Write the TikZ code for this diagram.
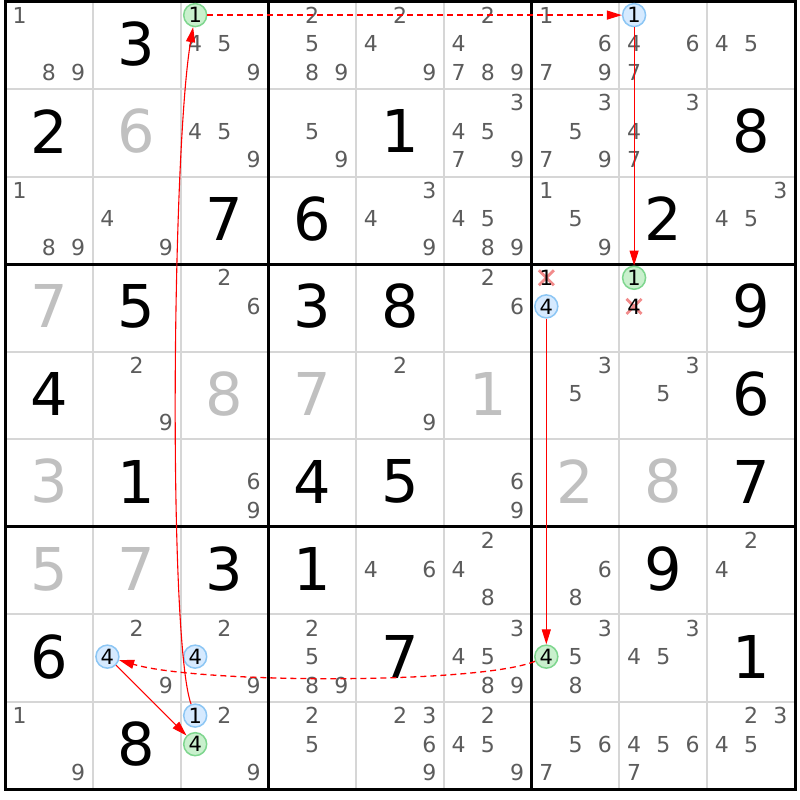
\documentclass[tikz,border=0pt]{standalone}
\usepackage{fontspec}
\setmainfont{DejaVu Sans}
\usetikzlibrary{arrows.meta}
\definecolor{candc}{HTML}{5C5C5C}
\definecolor{solvedc}{HTML}{C0C0C0}
\definecolor{thinc}{HTML}{D6D6D6}
\definecolor{grfill}{HTML}{C9F0CD}
\definecolor{grdraw}{HTML}{7ED68E}
\definecolor{blfill}{HTML}{D6EAFF}
\definecolor{bldraw}{HTML}{8CC6F4}
\definecolor{crossc}{HTML}{F28B8B}
\definecolor{linkc}{HTML}{FF0000}
\begin{document}
\begin{tikzpicture}[x=1pt,y=-1pt,
  declare function={cx(\c,\j)=5+(\c-1)*87.78+(\j+0.5)*29.26; cy(\r,\i)=1.5+(\r-1)*87.56+13.6+\i*28.6;},
  thinline/.style={thinc, line width=2pt},
  thickline/.style={black, line width=3pt},
  cand/.style={inner sep=0pt, text=candc, font=\fontsize{22}{22}\selectfont},
  given/.style={inner sep=0pt, text=black, font=\fontsize{59}{59}\selectfont},
  solved/.style={given, text=solvedc},
  markd/.style={inner sep=0pt, text=black, font=\fontsize{21}{21}\selectfont},
  grc/.style={markd, circle, minimum size=23pt, fill=grfill, draw=grdraw, line width=1.5pt},
  blc/.style={markd, circle, minimum size=23pt, fill=blfill, draw=bldraw, line width=1.5pt},
  crossline/.style={crossc, line width=2.8pt},
  link/.style={linkc, line width=1.1pt, -{Triangle[length=15pt,width=9pt]}},
  weaklink/.style={link, line width=1.3pt, dash pattern=on 6pt off 4pt}]
\useasboundingbox (0,0) rectangle (800,800);
\fill[white] (0,0) rectangle (800,800);
% thin grid lines
\foreach \i in {1,2,4,5,7,8} {
  \draw[thinline] ({5+\i*87.78},1.5) -- ({5+\i*87.78},789.5);
  \draw[thinline] (5,{1.5+\i*87.56}) -- (795,{1.5+\i*87.56});
}
% thick box lines
\foreach \i in {3,6} {
  \draw[thickline] ({5+\i*87.78},1.5) -- ({5+\i*87.78},789.5);
  \draw[thickline] (5,{1.5+\i*87.56}) -- (795,{1.5+\i*87.56});
}
\draw[thickline] (5,1.5) rectangle (795,789.5);
% given digits
\foreach \r/\c/\d in {1/2/3, 2/1/2, 2/5/1, 2/9/8, 3/3/7, 3/4/6, 3/8/2, 4/2/5, 4/4/3, 4/5/8, 4/9/9,
  5/1/4, 5/9/6, 6/2/1, 6/4/4, 6/5/5, 6/9/7, 7/3/3, 7/4/1, 7/8/9, 8/1/6, 8/5/7, 8/9/1, 9/2/8}
  \node[given] (g\r\c) at ({cx(\c,1)},{cy(\r,1)}) {\d};
% solved digits
\foreach \r/\c/\d in {2/2/6, 4/1/7, 5/3/8, 5/4/7, 5/6/1, 6/1/3, 6/7/2, 6/8/8, 7/1/5, 7/2/7}
  \node[solved] (s\r\c) at ({cx(\c,1)},{cy(\r,1)}) {\d};
% candidates
\foreach \r/\c/\ds in {1/1/{1,8,9}, 1/3/{4,5,9}, 1/4/{2,5,8,9}, 1/5/{2,4,9}, 1/6/{2,4,7,8,9}, 1/7/{1,6,7,9}, 1/8/{4,6,7}, 1/9/{4,5},
  2/3/{4,5,9}, 2/4/{5,9}, 2/6/{3,4,5,7,9}, 2/7/{3,5,7,9}, 2/8/{3,4,7},
  3/1/{1,8,9}, 3/2/{4,9}, 3/5/{3,4,9}, 3/6/{4,5,8,9}, 3/7/{1,5,9}, 3/9/{3,4,5},
  4/3/{2,6}, 4/6/{2,6},
  5/2/{2,9}, 5/5/{2,9}, 5/7/{3,5}, 5/8/{3,5},
  6/3/{6,9}, 6/6/{6,9},
  7/5/{4,6}, 7/6/{2,4,8}, 7/7/{6,8}, 7/9/{2,4},
  8/2/{2,9}, 8/3/{2,9}, 8/4/{2,5,8,9}, 8/6/{3,4,5,8,9}, 8/7/{3,5,8}, 8/8/{3,4,5},
  9/1/{1,9}, 9/3/{2,9}, 9/4/{2,5}, 9/5/{2,3,6,9}, 9/6/{2,4,5,9}, 9/7/{5,6,7}, 9/8/{4,5,6,7}, 9/9/{2,3,4,5}}
  \foreach \d in \ds
    \node[cand] (n\r\c\d) at ({cx(\c,mod(\d-1,3))},{cy(\r,floor((\d-1)/3))}) {\d};
% eliminated candidates
\draw[crossline] ({cx(7,0)-7.5},{cy(4,0)-7.5}) -- ({cx(7,0)+7.5},{cy(4,0)+7.5});
\draw[crossline] ({cx(7,0)-7.5},{cy(4,0)+7.5}) -- ({cx(7,0)+7.5},{cy(4,0)-7.5});
\draw[crossline] ({cx(8,0)-7.5},{cy(4,1)-7.5}) -- ({cx(8,0)+7.5},{cy(4,1)+7.5});
\draw[crossline] ({cx(8,0)-7.5},{cy(4,1)+7.5}) -- ({cx(8,0)+7.5},{cy(4,1)-7.5});
\node[markd] (x1) at ({cx(7,0)},{cy(4,0)}) {1};
\node[markd] (x2) at ({cx(8,0)},{cy(4,1)}) {4};
% chain candidates
\node[grc] (p1) at ({cx(3,0)},{cy(1,0)}) {1};
\node[blc] (p2) at ({cx(8,0)},{cy(1,0)}) {1};
\node[grc] (p3) at ({cx(8,0)},{cy(4,0)}) {1};
\node[blc] (p4) at ({cx(7,0)},{cy(4,1)}) {4};
\node[grc] (p5) at ({cx(7,0)},{cy(8,1)}) {4};
\node[blc] (p6) at ({cx(2,0)},{cy(8,1)}) {4};
\node[grc] (p7) at ({cx(3,0)},{cy(9,1)}) {4};
\node[blc] (p8) at ({cx(3,0)},{cy(9,0)}) {1};
\node[blc] (p9) at ({cx(3,0)},{cy(8,1)}) {4};
% links
\draw[weaklink] (p1) -- (p2);
\draw[link] (p2) -- (p3);
\draw[link] (p4) -- (p5);
\draw[weaklink] (p5) .. controls (480,684) and (200,684) .. (p6);
\draw[link] (p6) -- (p7);
\draw[link] (p8) .. controls (168,640) and (172,150) .. (p1);
\end{tikzpicture}
\end{document}
